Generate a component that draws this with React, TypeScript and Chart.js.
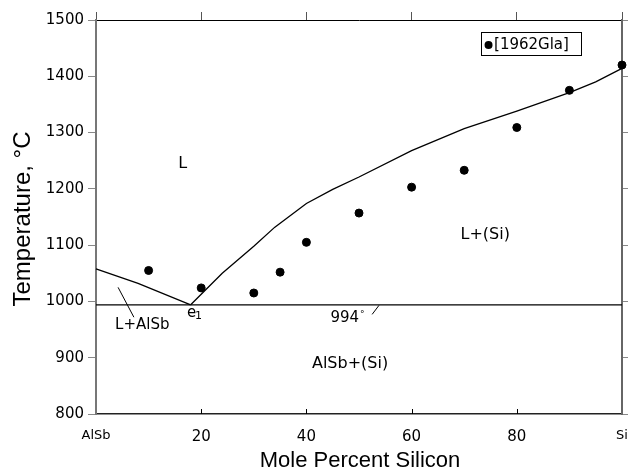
import React, { useEffect, useRef } from "react";
import { Chart, registerables } from "chart.js";

Chart.register(...registerables);

// Liquidus, AlSb side (mol% Si, °C)
const liqLeftX = [0, 8, 18];
const liqLeftY = [1058, 1032, 994];
// Liquidus, Si side
const liqRightX = [18, 24, 30, 34, 40, 45, 50, 60, 70, 80, 90, 95, 100];
const liqRightY = [994, 1050, 1098, 1132, 1174, 1199, 1221, 1268, 1307, 1338, 1371, 1390, 1414];
// Eutectic isotherm
const eutX = [0, 100];
const eutY = [994, 994];
// [1962Gla] experimental points
const expX = [10, 20, 30, 35, 40, 50, 60, 70, 80, 90, 100];
const expY = [1055, 1024, 1015, 1052, 1105, 1157, 1203, 1233, 1309, 1375, 1420];
// Axis ticks
const xTicks = [0, 20, 40, 60, 80, 100];
const xTickLabels = ["AlSb", "20", "40", "60", "80", "Si"];
const yTicks = [800, 900, 1000, 1100, 1200, 1300, 1400, 1500];

const TITLE_FONT = "'Liberation Sans', Arial, sans-serif";
const FONT = "'DejaVu Sans', sans-serif";

const toPts = (xs: number[], ys: number[]) => xs.map((x, i) => ({ x, y: ys[i] }));

const annotationPlugin = {
  id: "annot",
  afterDraw(chart: any) {
    const { ctx, scales } = chart;
    const xs = scales.x;
    const ys = scales.y;
    const px = (v: number) => xs.getPixelForValue(v);
    const py = (v: number) => ys.getPixelForValue(v);
    ctx.save();
    ctx.fillStyle = "#000";
    ctx.strokeStyle = "#000";
    ctx.textAlign = "center";
    ctx.textBaseline = "middle";

    // bottom inner ticks
    ctx.lineWidth = 1;
    xTicks.slice(1, -1).forEach((t) => {
      const x = Math.round(px(t)) + 0.5;
      ctx.beginPath();
      ctx.moveTo(x, chart.chartArea.bottom);
      ctx.lineTo(x, chart.chartArea.bottom - 5);
      ctx.stroke();
    });

    // region labels
    ctx.font = `16px ${FONT}`;
    ctx.fillText("L", px(16.5), py(1245));
    ctx.fillText("L+(Si)", px(74), py(1119));
    ctx.fillText("AlSb+(Si)", px(48.3), py(889));
    ctx.font = `15px ${FONT}`;
    ctx.fillText("L+AlSb", px(8.8), py(958));
    ctx.fillText("994", px(47.3), py(970));
    ctx.font = `9px ${FONT}`;
    ctx.fillText("°", px(50.6), py(977));
    // e1
    ctx.font = `15px ${FONT}`;
    ctx.fillText("e", px(18.2), py(979));
    ctx.font = `11px ${FONT}`;
    ctx.fillText("1", px(19.5), py(973));

    // pointer lines
    ctx.lineWidth = 1;
    ctx.beginPath();
    ctx.moveTo(px(4.2), py(1025));
    ctx.lineTo(px(7.2), py(972));
    ctx.moveTo(px(52.5), py(977));
    ctx.lineTo(px(53.8), py(993));
    ctx.stroke();

    // legend box
    const bx0 = px(73.2), bx1 = px(92.2), by0 = py(1478), by1 = py(1437);
    ctx.fillStyle = "#fff";
    ctx.fillRect(bx0, by0, bx1 - bx0, by1 - by0);
    ctx.lineWidth = 1;
    ctx.strokeRect(Math.round(bx0) + 0.5, Math.round(by0) + 0.5, Math.round(bx1 - bx0), Math.round(by1 - by0));
    ctx.fillStyle = "#000";
    const cy = (by0 + by1) / 2;
    ctx.beginPath();
    ctx.arc(bx0 + 7.5, cy + 1, 4, 0, Math.PI * 2);
    ctx.fill();
    ctx.font = `15px ${FONT}`;
    ctx.textAlign = "left";
    ctx.fillText("[1962Gla]", bx0 + 13, cy + 1);

    // axis titles
    ctx.textAlign = "center";
    ctx.font = `22px ${TITLE_FONT}`;
    ctx.fillText("Mole Percent Silicon", 360, 461);
    ctx.save();
    ctx.translate(23, 219);
    ctx.rotate(-Math.PI / 2);
    ctx.font = `24px ${TITLE_FONT}`;
    ctx.fillText("Temperature, °C", 0, 0);
    ctx.restore();

    ctx.restore();
  },
};

const noPad = (s: any) => {
  s.paddingLeft = 0;
  s.paddingRight = 0;
  s.paddingTop = 0;
  s.paddingBottom = 0;
};

export default function App() {
  const ref = useRef<HTMLCanvasElement | null>(null);
  useEffect(() => {
    if (!ref.current) return;
    const lineStyle = {
      showLine: true,
      pointRadius: 0,
      borderColor: "#000",
      borderWidth: 1.3,
      fill: false,
      tension: 0,
    };
    const chart = new Chart(ref.current, {
      type: "scatter",
      data: {
        datasets: [
          { ...lineStyle, data: toPts(liqLeftX, liqLeftY) },
          { ...lineStyle, data: toPts(liqRightX, liqRightY) },
          { ...lineStyle, data: toPts(eutX, eutY) },
          {
            data: toPts(expX, expY),
            pointRadius: 4,
            pointBackgroundColor: "#000",
            pointBorderColor: "#000",
            showLine: false,
          },
        ],
      },
      options: {
        responsive: false,
        animation: false,
        clip: false,
        plugins: { legend: { display: false }, tooltip: { enabled: false } },
        layout: { padding: 0 },
        scales: {
          x: {
            type: "linear",
            position: "bottom",
            min: 0,
            max: 100,
            afterFit: (s: any) => { s.height = 58; noPad(s); },
            afterBuildTicks: (s: any) => { s.ticks = xTicks.map((v) => ({ value: v })); },
            ticks: {
              padding: 6,
              color: "#000",
              maxRotation: 0,
              autoSkip: false,
              callback: (v: any) => {
                const i = xTicks.indexOf(Number(v));
                return i >= 0 ? xTickLabels[i] : "";
              },
              font: (c: any) => {
                const v = c.tick ? c.tick.value : 50;
                return { family: FONT, size: v === 0 || v === 100 ? 13 : 15 };
              },
            },
            grid: { display: false },
            border: { display: true, color: "#222", width: 1.5 },
          },
          x2: {
            type: "linear",
            position: "top",
            min: 0,
            max: 100,
            afterFit: (s: any) => { s.height = 20; noPad(s); },
            afterBuildTicks: (s: any) => { s.ticks = xTicks.map((v) => ({ value: v })); },
            ticks: { display: false },
            grid: { display: true, drawOnChartArea: false, drawTicks: true, tickLength: 8, color: "#555" },
            border: { display: true, color: "#000", width: 1 },
          },
          y: {
            type: "linear",
            position: "left",
            min: 800,
            max: 1500,
            afterFit: (s: any) => { s.width = 96; noPad(s); },
            afterBuildTicks: (s: any) => { s.ticks = yTicks.map((v) => ({ value: v })); },
            ticks: {
              padding: 4,
              color: "#000",
              font: { family: FONT, size: 15 },
              callback: (v: any) => String(v),
            },
            grid: { display: true, drawOnChartArea: false, drawTicks: true, tickLength: 8, color: "#888" },
            border: { display: true, color: "#777", width: 2 },
          },
          y2: {
            type: "linear",
            position: "right",
            min: 800,
            max: 1500,
            afterFit: (s: any) => { s.width = 6; noPad(s); },
            afterBuildTicks: (s: any) => { s.ticks = yTicks.map((v) => ({ value: v })); },
            ticks: { display: false },
            grid: { display: true, drawOnChartArea: false, drawTicks: true, tickLength: 6, color: "#888" },
            border: { display: true, color: "#666", width: 2 },
          },
        },
      },
      plugins: [annotationPlugin],
    } as any);
    return () => chart.destroy();
  }, []);
  return (
    <div style={{ position: "absolute", left: 0, top: 0, width: 628, height: 472, background: "#fff" }}>
      <canvas ref={ref} width={628} height={472} style={{ display: "block" }} />
    </div>
  );
}
